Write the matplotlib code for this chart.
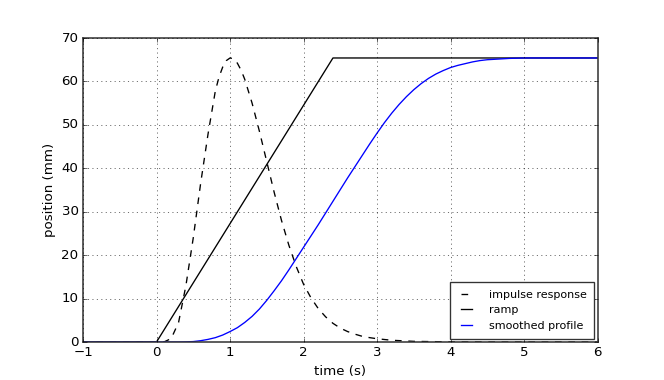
import matplotlib
matplotlib.use("Agg")
import matplotlib.pyplot as plt

plt.style.use("classic")

# impulse response (dashed)
t_imp = [-1.0, 0.0, 0.1, 0.2, 0.3, 0.4, 0.5, 0.6, 0.7, 0.8, 0.85, 0.9, 0.95, 1.0,
         1.05, 1.1, 1.15, 1.2, 1.3, 1.4, 1.5, 1.6, 1.7, 1.8, 1.9, 2.0, 2.1, 2.2,
         2.3, 2.4, 2.5, 2.6, 2.7, 2.8, 2.9, 3.0, 3.2, 3.5, 4.0, 4.5, 6.0]
v_imp = [0.0, 0.0, 0.0, 0.8, 4.5, 13.0, 24.0, 36.5, 47.8, 57.8, 61.0, 63.3, 64.8,
         65.4, 65.2, 64.2, 62.6, 60.5, 55.0, 48.5, 41.5, 34.5, 28.0, 22.3, 17.4,
         13.3, 10.2, 7.7, 5.8, 4.3, 3.2, 2.4, 1.8, 1.3, 1.0, 0.75, 0.4, 0.15,
         0.03, 0.0, 0.0]

# ramp (solid black)
t_ramp = [-1.0, 0.0, 2.4, 6.0]
v_ramp = [0.0, 0.0, 65.4, 65.4]

# smoothed profile (blue)
t_smooth = [-1.0, 0.3, 0.4, 0.5, 0.6, 0.7, 0.8, 0.9, 1.0, 1.1, 1.2, 1.3, 1.4,
            1.5, 1.6, 1.7, 1.8, 1.9, 2.0, 2.1, 2.2, 2.3, 2.4, 2.5, 2.6, 2.7,
            2.8, 2.9, 3.0, 3.1, 3.2, 3.3, 3.4, 3.5, 3.6, 3.7, 3.8, 3.9, 4.0,
            4.1, 4.2, 4.3, 4.4, 4.5, 4.6, 4.7, 4.8, 4.9, 5.0, 6.0]
v_smooth = [0.0, 0.0, 0.03, 0.1, 0.3, 0.6, 1.0, 1.6, 2.4, 3.3, 4.5, 5.9, 7.6,
            9.6, 11.8, 14.1, 16.6, 19.2, 21.8, 24.4, 27.0, 29.7, 32.4, 35.1,
            37.8, 40.4, 43.0, 45.6, 48.1, 50.5, 52.7, 54.7, 56.5, 58.1, 59.5,
            60.7, 61.7, 62.5, 63.2, 63.7, 64.1, 64.5, 64.8, 65.0, 65.1, 65.2,
            65.3, 65.35, 65.4, 65.4]

fig = plt.figure(figsize=(8.3, 4.75), dpi=80)
ax = fig.add_subplot(111)
ax.plot(t_imp, v_imp, "k--", lw=1.2, label="impulse response")
ax.plot(t_ramp, v_ramp, "k-", lw=1.2, label="ramp")
ax.plot(t_smooth, v_smooth, "b-", lw=1.2, label="smoothed profile")
ax.set_xlim(-1, 6)
ax.set_ylim(0, 70)
ax.set_xlabel("time (s)")
ax.set_ylabel("position (mm)")
ax.grid(True)
for s in ax.spines.values():
    s.set_linewidth(1.4)
    s.set_edgecolor("#333333")
leg = ax.legend(loc="lower right", fontsize=10, borderaxespad=0.3,
                borderpad=0.7, handlelength=1.6, handletextpad=1.2)
leg.get_frame().set_linewidth(1.2)
leg.get_frame().set_edgecolor("#333333")
fig.savefig("out.png", dpi=80)
